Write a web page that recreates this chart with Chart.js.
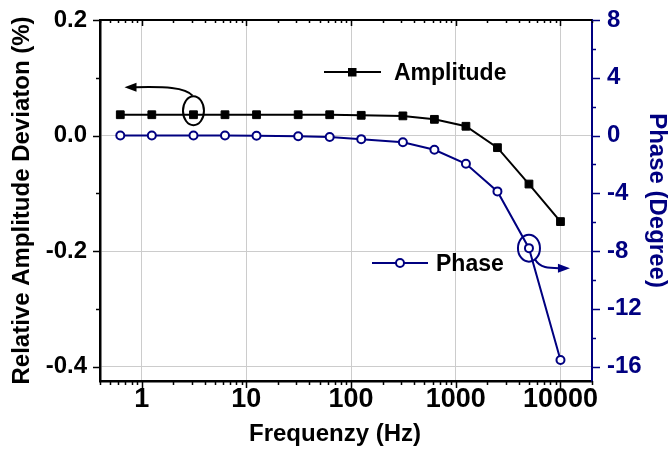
<!DOCTYPE html>
<html>
<head>
<meta charset="utf-8">
<script src="https://cdn.jsdelivr.net/npm/chart.js@4"></script>
<style>
  html, body { margin: 0; padding: 0; background: #fff; }
  #wrap { width: 669px; height: 450px; }
</style>
</head>
<body>
<div id="wrap"><canvas id="freqChart"></canvas></div>
<script>
// Data
const freq = [0.625, 1.25, 3.125, 6.25, 12.5, 31.25, 62.5, 125, 312.5, 625, 1250, 2500, 5000, 10000];
const amplitude = [0.036, 0.036, 0.036, 0.036, 0.036, 0.036, 0.036, 0.035, 0.034, 0.028, 0.016, -0.021, -0.084, -0.149];
const phase = [0, 0, 0, 0, -0.02, -0.05, -0.1, -0.25, -0.46, -0.99, -1.96, -3.87, -7.8, -15.55];

const xTicks = [1, 10, 100, 1000, 10000];
const ampTicks = [-0.4, -0.2, 0, 0.2];
const ampMinor = [-0.3, -0.1, 0.1];
const phaseTicks = [-16, -12, -8, -4, 0, 4, 8];
const phaseMinor = [-14, -10, -6, -2, 2, 6];

const NAVY = '#000080';
const FONT = 'Liberation Sans, Arial, sans-serif';

const ctx = document.getElementById('freqChart').getContext('2d');

// minor ticks for the log axis
function logMinor(min, max) {
  const out = [];
  for (let d = 0.1; d <= 10000; d *= 10) {
    for (let m = 2; m <= 9; m++) {
      const v = d * m;
      if (v >= min && v <= max) out.push(v);
    }
  }
  return out;
}

const decor = {
  id: 'decor',
  afterDraw(chart) {
    const c = chart.ctx;
    const a = chart.chartArea;
    const x = chart.scales.x, y = chart.scales.y, y1 = chart.scales.y1;
    c.save();

    // top frame line
    c.strokeStyle = '#000';
    c.lineWidth = 2;
    c.beginPath();
    c.moveTo(a.left, a.top);
    c.lineTo(a.right, a.top);
    c.stroke();

    // x ticks (bottom outward, top inward)
    c.lineWidth = 1.5;
    const minors = logMinor(x.min, x.max);
    const tick = (v, len) => {
      const px = Math.round(x.getPixelForValue(v)) + 0.5;
      c.beginPath();
      c.moveTo(px, a.bottom); c.lineTo(px, a.bottom + len);
      c.moveTo(px, a.top); c.lineTo(px, a.top + len - 1);
      c.stroke();
    };
    xTicks.forEach(v => tick(v, 7));
    minors.forEach(v => tick(v, 4));

    // left ticks
    const leftTick = (v, len) => {
      const py = Math.round(y.getPixelForValue(v)) + 0.5;
      c.beginPath(); c.moveTo(a.left, py); c.lineTo(a.left - len, py); c.stroke();
    };
    ampTicks.forEach(v => leftTick(v, 7));
    ampMinor.forEach(v => leftTick(v, 4));

    // right ticks
    c.strokeStyle = NAVY;
    const rightTick = (v, len) => {
      const py = Math.round(y1.getPixelForValue(v)) + 0.5;
      c.beginPath(); c.moveTo(a.right, py); c.lineTo(a.right + len, py); c.stroke();
    };
    phaseTicks.forEach(v => rightTick(v, 8));
    phaseMinor.forEach(v => rightTick(v, 4));

    // x axis title
    c.fillStyle = '#000';
    c.font = 'bold 24px ' + FONT;
    c.textAlign = 'center';
    c.textBaseline = 'middle';
    c.fillText('Frequenzy (Hz)', 335, 434);

    // legend: Amplitude
    c.strokeStyle = '#000';
    c.lineWidth = 2;
    c.beginPath(); c.moveTo(324, 72); c.lineTo(381, 72); c.stroke();
    c.fillStyle = '#000';
    c.fillRect(348, 68, 8.5, 8.5);
    c.font = 'bold 23px ' + FONT;
    c.textAlign = 'left';
    c.fillText('Amplitude', 394, 74);

    // legend: Phase
    c.strokeStyle = NAVY;
    c.beginPath(); c.moveTo(372, 263); c.lineTo(428, 263); c.stroke();
    c.beginPath(); c.arc(400, 263, 4, 0, Math.PI * 2);
    c.fillStyle = '#fff'; c.fill(); c.stroke();
    c.fillStyle = '#000';
    c.fillText('Phase', 436, 265);

    // ellipse + arrow pointing to the left axis
    const ax = x.getPixelForValue(freq[2]);
    const ay = y.getPixelForValue(amplitude[2]) - 4;
    c.strokeStyle = '#000';
    c.lineWidth = 2;
    c.beginPath(); c.ellipse(ax, ay, 10.5, 14.5, 0, 0, Math.PI * 2); c.stroke();
    c.beginPath();
    c.moveTo(ax - 1, ay - 15);
    c.bezierCurveTo(ax - 8, ay - 24, ax - 30, ay - 24, ax - 58, ay - 23.5);
    c.stroke();
    c.fillStyle = '#000';
    c.beginPath();
    c.moveTo(ax - 69, ay - 23.5);
    c.lineTo(ax - 57, ay - 28);
    c.lineTo(ax - 57, ay - 19);
    c.closePath(); c.fill();

    // ellipse + arrow pointing to the right axis
    const bx = x.getPixelForValue(freq[12]);
    const by = y1.getPixelForValue(phase[12]);
    c.strokeStyle = NAVY;
    c.beginPath(); c.ellipse(bx, by, 11, 13.5, 0, 0, Math.PI * 2); c.stroke();
    c.beginPath();
    c.moveTo(bx + 6, by + 11);
    c.bezierCurveTo(bx + 11, by + 20, bx + 20, by + 20, bx + 30, by + 20);
    c.stroke();
    c.fillStyle = NAVY;
    c.beginPath();
    c.moveTo(bx + 41, by + 20);
    c.lineTo(bx + 29, by + 15.5);
    c.lineTo(bx + 29, by + 24.5);
    c.closePath(); c.fill();

    c.restore();
  }
};

const chart = new Chart(ctx, {
  type: 'line',
  data: {
    datasets: [
      {
        label: 'Amplitude',
        data: freq.map((f, i) => ({ x: f, y: amplitude[i] })),
        yAxisID: 'y',
        borderColor: '#000',
        backgroundColor: '#000',
        borderWidth: 2,
        pointStyle: 'rect',
        pointRadius: 5.5,
        pointBorderWidth: 1,
        tension: 0
      },
      {
        label: 'Phase',
        data: freq.map((f, i) => ({ x: f, y: phase[i] })),
        yAxisID: 'y1',
        borderColor: NAVY,
        backgroundColor: '#fff',
        borderWidth: 2,
        pointStyle: 'circle',
        pointRadius: 4,
        pointBorderWidth: 2,
        tension: 0
      }
    ]
  },
  options: {
    animation: false,
    responsive: true,
    maintainAspectRatio: false,
    layout: { padding: { top: 20, left: 0, right: 0, bottom: 0 } },
    plugins: {
      legend: { display: false },
      tooltip: { enabled: false }
    },
    scales: {
      x: {
        type: 'logarithmic',
        min: 0.4,
        max: 20000,
        afterBuildTicks: s => { s.ticks = xTicks.map(v => ({ value: v })); },
        afterFit: s => { s.height = 69; s.paddingLeft = 0; s.paddingRight = 0; },
        grid: { color: '#cccccc', lineWidth: 1, drawTicks: false },
        border: { color: '#000', width: 2.5 },
        ticks: {
          color: '#000',
          padding: 5,
          font: { family: FONT, size: 27, weight: 'bold', lineHeight: 1 },
          callback: v => String(v)
        }
      },
      y: {
        position: 'left',
        min: -0.425,
        max: 0.2,
        afterBuildTicks: s => { s.ticks = ampTicks.map(v => ({ value: v })); },
        afterFit: s => { s.width = 100; s.paddingTop = 0; s.paddingBottom = 0; },
        grid: { color: '#cccccc', lineWidth: 1, drawTicks: false },
        border: { color: '#000', width: 2.5 },
        ticks: {
          color: '#000',
          padding: 13,
          font: { family: FONT, size: 24, weight: 'bold' },
          callback: v => v.toFixed(1)
        },
        title: {
          display: true,
          text: 'Relative Amplitude Deviaton (%)',
          color: '#000',
          padding: { top: 8 },
          font: { family: FONT, size: 24, weight: 'bold' }
        }
      },
      y1: {
        position: 'right',
        min: -17,
        max: 8,
        afterBuildTicks: s => { s.ticks = phaseTicks.map(v => ({ value: v })); },
        afterFit: s => { s.width = 77; s.paddingTop = 0; s.paddingBottom = 0; },
        grid: { display: false, drawTicks: false },
        border: { color: NAVY, width: 2 },
        ticks: {
          color: NAVY,
          padding: 15,
          font: { family: FONT, size: 24, weight: 'bold' },
          callback: v => String(v)
        },
        title: {
          display: true,
          text: 'Phase (Degree)',
          color: NAVY,
          padding: { top: 0 },
          font: { family: FONT, size: 24, weight: 'bold', lineHeight: 1 }
        }
      }
    }
  },
  plugins: [decor]
});
</script>
</body>
</html>
